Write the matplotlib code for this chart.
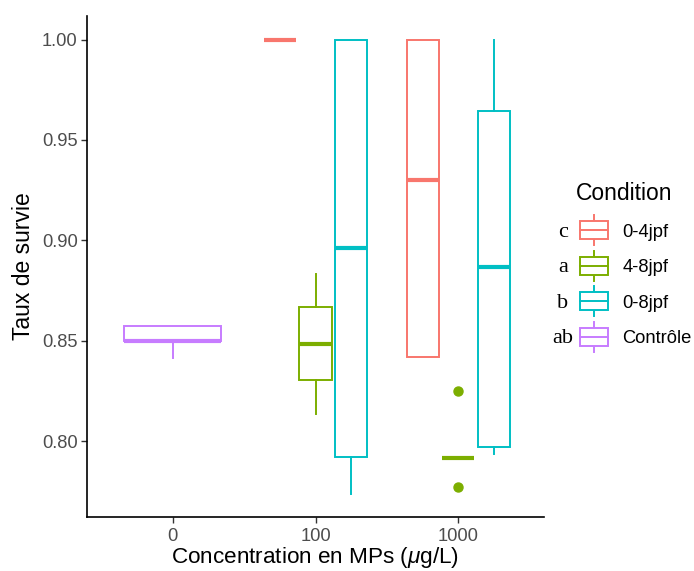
import numpy as np
import matplotlib
matplotlib.use('Agg')
import matplotlib.pyplot as plt
from matplotlib.patches import Rectangle, Patch
from matplotlib.lines import Line2D
from matplotlib.legend_handler import HandlerBase

plt.rcParams['font.family'] = ['Liberation Sans', 'DejaVu Sans']
plt.rcParams['mathtext.fontset'] = 'custom'
plt.rcParams['mathtext.rm'] = 'Liberation Sans'
plt.rcParams['mathtext.it'] = 'Liberation Sans:italic'

# === prepare data ===
concentrations = ['0', '100', '1000']
conditions = ['0-4jpf', '4-8jpf', '0-8jpf', 'Contrôle']
letters = ['c', 'a', 'b', 'ab']
colors = ['#F8766D', '#7CAE00', '#00BFC4', '#C77CFF']

# one entry per box (concentration, condition) with the box statistics
box_conc = ['0', '100', '100', '100', '1000', '1000', '1000']
box_cond = ['Contrôle', '0-4jpf', '4-8jpf', '0-8jpf', '0-4jpf', '4-8jpf', '0-8jpf']
whislo = [0.8415, 1.000, 0.8135, 0.7737, 0.842, 0.792, 0.7938]
q1     = [0.850, 1.000, 0.8304, 0.7924, 0.842, 0.792, 0.7974]
med    = [0.850, 1.000, 0.8485, 0.8963, 0.930, 0.792, 0.887]
q3     = [0.8575, 1.000, 0.8668, 1.000, 1.000, 0.792, 0.9646]
whishi = [0.8575, 1.000, 0.8832, 1.000, 1.000, 0.792, 1.000]
fliers = [[], [], [], [], [], [0.8253, 0.7775], []]

# === plot data ===
fig = plt.figure(figsize=(6.94, 5.71), dpi=100)
W, H = 694, 571
ax = fig.add_axes([87 / W, (H - 517) / H, (544 - 87) / W, (517 - 16) / H])

dodge_total = 0.745
box_total = 0.68
for i, (conc, cond) in enumerate(zip(box_conc, box_cond)):
    xi = concentrations.index(conc)
    group = [c for cc, c in zip(box_conc, box_cond) if cc == conc]
    n = len(group)
    k = group.index(cond)
    step = dodge_total / n
    pos = xi + (k - (n - 1) / 2) * step
    width = box_total / n
    col = colors[conditions.index(cond)]
    stats = [dict(whislo=whislo[i], q1=q1[i], med=med[i], q3=q3[i],
                  whishi=whishi[i], fliers=fliers[i])]
    ax.bxp(stats, positions=[pos], widths=[width], patch_artist=True,
           showcaps=False,
           boxprops=dict(facecolor='white', edgecolor=col, linewidth=1.4),
           whiskerprops=dict(color=col, linewidth=1.4),
           medianprops=dict(color=col, linewidth=3.0, solid_capstyle='butt'),
           flierprops=dict(marker='o', markerfacecolor=col, markeredgecolor=col,
                           markersize=6.5, linestyle='none'))

ax.set_xlim(-0.6, 2.6)
ax.set_ylim(0.7624, 1.0117)
ax.set_xticks(range(len(concentrations)))
ax.set_xticklabels(concentrations)
ax.set_yticks([0.80, 0.85, 0.90, 0.95, 1.00])
ax.set_yticklabels(['0.80', '0.85', '0.90', '0.95', '1.00'])
ax.tick_params(axis='both', labelsize=13.2, labelcolor='#4D4D4D', color='#333333',
               length=4.3, width=1.0)
ax.tick_params(axis='x', pad=3.5)
ax.tick_params(axis='y', pad=2.5)
for s in ['top', 'right']:
    ax.spines[s].set_visible(False)
for s in ['left', 'bottom']:
    ax.spines[s].set_linewidth(1.2)
ax.set_xlabel(r'Concentration en MPs ($\mu$g/L)', fontsize=16.2, labelpad=0)
ax.set_ylabel('Taux de survie', fontsize=16.5, labelpad=5)


class BoxKey(HandlerBase):
    def create_artists(self, legend, orig_handle, xdescent, ydescent,
                       width, height, fontsize, trans):
        c = orig_handle.get_edgecolor()
        cx = -xdescent + width / 2
        cy = -ydescent + height / 2
        bw, bh, wh = 20.0, 6.5, 10.8
        rect = Rectangle((cx - bw / 2, cy - bh), bw, 2 * bh, facecolor='white',
                         edgecolor=c, linewidth=1.4, transform=trans)
        m = Line2D([cx - bw / 2, cx + bw / 2], [cy, cy], color=c, lw=1.4, transform=trans)
        w1 = Line2D([cx, cx], [cy + bh, cy + wh], color=c, lw=1.4, transform=trans)
        w2 = Line2D([cx, cx], [cy - bh, cy - wh], color=c, lw=1.4, transform=trans)
        return [w1, w2, rect, m]


handles = [Patch(facecolor='white', edgecolor=c) for c in colors]
leg = fig.legend(handles, conditions, handler_map={Patch: BoxKey()},
                 loc='upper left', bbox_to_anchor=(576 / W, 1 - 182 / H),
                 frameon=False, fontsize=13.2, title='Condition',
                 title_fontsize=16.5, alignment='left', borderpad=0,
                 borderaxespad=0, handlelength=1.97, handleheight=1.3,
                 labelspacing=0.84, handletextpad=0.55)

fig.canvas.draw()
for txt, lab in zip(leg.get_texts(), letters):
    bb = txt.get_window_extent()
    yc = (bb.y0 + bb.y1) / 2
    fig.text(563 / W, yc / H, lab, ha='center', va='center', fontsize=16,
             family='Liberation Serif', color='black')

plt.savefig('out.png', dpi=100)
